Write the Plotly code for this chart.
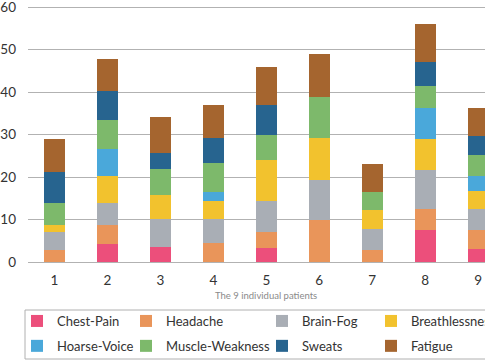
import plotly.graph_objects as go

patients = ["1", "2", "3", "4", "5", "6", "7", "8", "9"]
symptoms = ["Chest-Pain", "Headache", "Brain-Fog", "Breathlessness",
            "Hoarse-Voice", "Muscle-Weakness", "Sweats", "Fatigue"]
colors = ["#EC4F7B", "#E9955A", "#A9AEB5", "#F2C22E",
          "#4AA8DA", "#7DB96B", "#27648F", "#A5652F"]
# legend column each symptom is listed in (two rows of four)
legend_cols = ["legend", "legend2", "legend3", "legend4",
               "legend", "legend2", "legend3", "legend4"]

chest_pain      = [0.0, 4.2, 3.5, 0.0, 3.4, 0.0, 0.0, 7.5, 3.0]
headache        = [2.8, 4.6, 0.0, 4.5, 3.7, 9.9, 2.8, 5.0, 4.5]
brain_fog       = [4.3, 5.0, 6.6, 5.6, 7.3, 9.4, 5.0, 9.2, 4.9]
breathlessness  = [1.6, 6.5, 5.7, 4.2, 9.7, 10.0, 4.5, 7.3, 4.3]
hoarse_voice    = [0.0, 6.3, 0.0, 2.1, 0.0, 0.0, 0.0, 7.3, 3.6]
muscle_weakness = [5.1, 6.8, 6.2, 7.0, 5.9, 9.45, 4.2, 5.2, 5.0]
sweats          = [7.4, 6.8, 3.6, 5.9, 6.9, 0.0, 0.0, 5.7, 4.4]
fatigue         = [7.7, 7.7, 8.5, 7.7, 8.95, 10.15, 6.5, 8.9, 6.5]

series = [chest_pain, headache, brain_fog, breathlessness,
          hoarse_voice, muscle_weakness, sweats, fatigue]

x_vals = [int(p) for p in patients]

fig = go.Figure()
for name, vals, col, lg in zip(symptoms, series, colors, legend_cols):
    fig.add_trace(go.Bar(
        x=x_vals, y=vals, name=name,
        marker=dict(color=col, line=dict(width=0)),
        width=0.4, legend=lg, legendgroup=name,
    ))

font_family = "Lato, Open Sans, sans-serif"
W, H = 485, 360
ML, MT, MB = 28, 3, 98
plot_h = H - MT - MB
plot_w = W - ML

def legend_at(px):
    return dict(
        orientation="v", traceorder="grouped", tracegroupgap=5,
        x=px / W, xref="container", xanchor="left",
        y=1 - 306 / H, yref="container", yanchor="top",
        bgcolor="rgba(0,0,0,0)", borderwidth=0,
        font=dict(size=13, color="#333333", family=font_family),
        itemwidth=30,
    )

fig.update_layout(
    width=W, height=H,
    barmode="stack",
    plot_bgcolor="white", paper_bgcolor="white",
    margin=dict(l=ML, r=0, t=MT, b=MB, autoexpand=False),
    font=dict(family=font_family, color="#3a3a3a", size=12),
    showlegend=True,
    legend=legend_at(17),
    legend2=legend_at(126),
    legend3=legend_at(262),
    legend4=legend_at(371),
    xaxis=dict(
        range=[0.5, 9.13], automargin=False,
        tickmode="array", tickvals=x_vals, ticktext=patients,
        showgrid=False, zeroline=False, showline=False,
        tickfont=dict(size=13.5, color="#333333"),
        ticks="", ticklabelstandoff=8,
    ),
    yaxis=dict(
        range=[0, 61], automargin=False,
        tickvals=[0, 10, 20, 30, 40, 50, 60],
        showgrid=True, gridcolor="#b2b2b2", gridwidth=1.2,
        zeroline=True, zerolinecolor="#b2b2b2", zerolinewidth=1.2,
        showline=False, ticks="",
        tickfont=dict(size=13.5, color="#333333"),
        ticklabelstandoff=11, ticklabeloverflow="allow",
    ),
    annotations=[dict(
        text="The 9 individual patients",
        x=5, xref="x", y=-0.128, yref="paper",
        xanchor="center", yanchor="middle", showarrow=False,
        font=dict(size=9.5, color="#8a8a8a", family=font_family),
    )],
    shapes=[dict(
        type="rect", xref="paper", yref="paper",
        x0=(25 - ML) / plot_w, x1=(495 - ML) / plot_w,
        y0=(MT + plot_h - 359) / plot_h, y1=(MT + plot_h - 310) / plot_h,
        line=dict(color="#b0b0b0", width=1), fillcolor="rgba(0,0,0,0)",
        layer="below",
    )],
)

fig.write_html(
    "out.html",
    config={"displayModeBar": False},
    post_script="document.body.style.margin='0';document.body.style.overflow='hidden';",
)
